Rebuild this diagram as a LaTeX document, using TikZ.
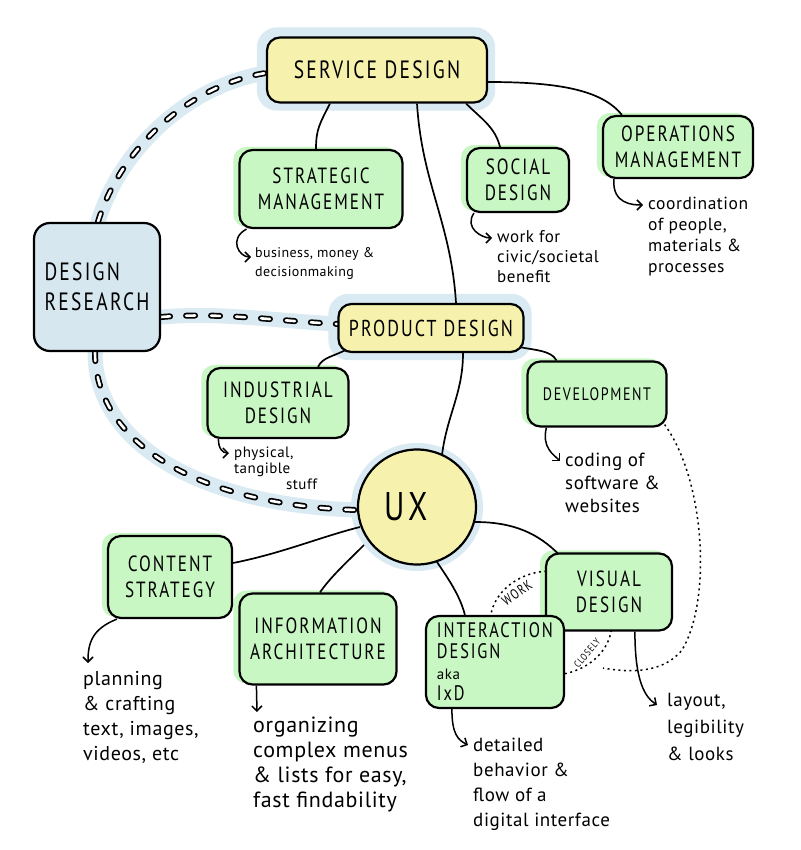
\documentclass[tikz,border=0pt]{standalone}
\usepackage{fontspec}
\setmainfont{PT Sans}
\newfontfamily\capfont[LetterSpace=9,FakeStretch=0.78]{PT Sans}
\newfontfamily\annfont[LetterSpace=3]{PT Sans}
\usetikzlibrary{arrows.meta,calc,shapes.geometric,backgrounds}
\definecolor{ylw}{RGB}{246,241,172}
\definecolor{grn}{RGB}{201,247,196}
\definecolor{drb}{RGB}{214,231,240}
\definecolor{halo}{RGB}{218,234,242}
\pgfdeclarelayer{halolayer}
\pgfsetlayers{halolayer,background,main}
\tikzset{
  box/.style={draw=black, line width=2.2pt, rounded corners=13pt, align=center, inner sep=0pt, font=\capfont\fontsize{22}{26}\selectfont},
  ybox/.style={box, fill=ylw},
  gbox/.style={box, fill=grn},
  bbox/.style={box, fill=drb, rounded corners=16pt},
  link/.style={line width=1.7pt, draw=black},
  note/.style={line width=1.5pt, -{Straight Barb[length=5pt,width=10pt,line width=1.5pt]}},
  ann/.style={align=left, anchor=north west, inner sep=0pt, font=\annfont\fontsize{16}{22}\selectfont},
  dashout/.style={line width=6pt, draw=black, line cap=round, dash pattern=on 9pt off 16pt},
  dashin/.style={line width=2.6pt, draw=white, line cap=round, dash pattern=on 9pt off 16pt},
  haloline/.style={line width=15pt, draw=halo, line cap=round},
  dots/.style={line width=1.5pt, dash pattern=on 2pt off 3.5pt},
  small/.style={inner sep=0pt, font=\capfont\fontsize{14}{16}\selectfont},
}
\newcommand{\gshade}[1]{\fill[grn, rounded corners=13pt] ($(#1.north west)+(-5,-2)$) rectangle ($(#1.south east)+(-5,-2)$);}
\newcommand{\nhalo}[1]{\fill[halo, rounded corners=20pt] ($(#1.north west)+(-9,-9)$) rectangle ($(#1.south east)+(7,7)$);}
\begin{document}
\begin{tikzpicture}[x=1pt,y=-1pt]
\useasboundingbox (0,0) rectangle (800,850);
% ---------- nodes
\node[ybox, minimum width=220pt, minimum height=65pt, font=\capfont\fontsize{25}{28}\selectfont] (sd) at (377,70) {SERVICE DESIGN};
\node[gbox, minimum width=163pt, minimum height=78pt] (strat) at (321,189) {STRATEGIC\\MANAGEMENT};
\node[gbox, minimum width=102pt, minimum height=64pt] (soc) at (518,180) {SOCIAL\\DESIGN};
\node[gbox, minimum width=150pt, minimum height=62pt] (ops) at (678,147) {OPERATIONS\\MANAGEMENT};
\node[bbox, minimum width=126pt, minimum height=128pt, align=left, font=\capfont\fontsize{25}{30}\selectfont] (dr) at (97,287) {DESIGN\\RESEARCH};
\node[ybox, minimum width=185pt, minimum height=48pt, font=\capfont\fontsize{23}{26}\selectfont] (pd) at (431,328) {PRODUCT DESIGN};
\node[gbox, minimum width=141pt, minimum height=70pt] (ind) at (278,403) {INDUSTRIAL\\DESIGN};
\node[gbox, minimum width=139pt, minimum height=65pt, font=\capfont\fontsize{18}{20}\selectfont] (dev) at (597,394) {DEVELOPMENT};
\node[ybox, ellipse, minimum width=118pt, minimum height=115pt, font=\capfont\fontsize{40}{44}\selectfont] (ux) at (417,507) {UX\hspace*{22pt}};
\node[gbox, minimum width=124pt, minimum height=82pt] (cs) at (170,577) {CONTENT\\STRATEGY};
\node[gbox, minimum width=157pt, minimum height=91pt] (ia) at (318,639) {INFORMATION\\ARCHITECTURE};
\node[gbox, minimum width=126pt, minimum height=77pt] (vis) at (609,592) {VISUAL\\DESIGN};
\node[gbox, minimum width=138pt, minimum height=92pt, align=left, font=\capfont\fontsize{21}{21}\selectfont] (ixd) at (495,662) {INTERACTION\\DESIGN\\{\annfont\fontsize{15}{20}\selectfont aka}\\IxD};
% ---------- halos
\begin{pgfonlayer}{halolayer}
\fill[white] (0,0) rectangle (800,850);
\nhalo{sd}
\nhalo{pd}
\fill[halo] (ux.center) ellipse [x radius=66pt, y radius=64pt];
\gshade{strat}\gshade{soc}\gshade{ops}\gshade{ind}\gshade{dev}\gshade{cs}\gshade{ia}\gshade{vis}
\draw[haloline] ($(dr.north)+(1,0)$) .. controls +(22,-73) and +(-77,12) .. ($(sd.west)+(0,3)$);
\draw[haloline] ($(dr.east)+(0,30)$) .. controls +(60,-5) and +(-60,-3) .. ($(pd.west)+(0,-4)$);
\draw[haloline] ($(dr.south)+(-2,0)$) .. controls +(0,90) and +(-160,-5) .. ($(ux.west)+(0,3)$);
\end{pgfonlayer}
% ---------- connectors
\begin{pgfonlayer}{background}
\draw[dashout] ($(dr.north)+(1,0)$) .. controls +(22,-73) and +(-77,12) .. ($(sd.west)+(0,3)$);
\draw[dashin] ($(dr.north)+(1,0)$) .. controls +(22,-73) and +(-77,12) .. ($(sd.west)+(0,3)$);
\draw[dashout] ($(dr.east)+(0,30)$) .. controls +(60,-5) and +(-60,-3) .. ($(pd.west)+(0,-4)$);
\draw[dashin] ($(dr.east)+(0,30)$) .. controls +(60,-5) and +(-60,-3) .. ($(pd.west)+(0,-4)$);
\draw[dashout] ($(dr.south)+(-2,0)$) .. controls +(0,90) and +(-160,-5) .. ($(ux.west)+(0,3)$);
\draw[dashin] ($(dr.south)+(-2,0)$) .. controls +(0,90) and +(-160,-5) .. ($(ux.west)+(0,3)$);
\draw[link] ($(sd.south west)+(64,0)$) .. controls +(-10,20) and +(0,-20) .. ($(strat.north)+(-5,0)$);
\draw[link] ($(sd.south)+(40,0)$) .. controls +(5,80) and +(-5,-80) .. ($(pd.north)+(25,0)$);
\draw[link] ($(sd.south east)+(-22,0)$) .. controls +(15,15) and +(-5,-20) .. ($(soc.north)+(-18,0)$);
\draw[link] ($(sd.east)+(0,12)$) .. controls +(70,0) and +(-20,-25) .. ($(ops.north west)+(20,0)$);
\draw[link] ($(pd.south west)+(10,-4)$) .. controls +(-15,8) and +(5,-10) .. ($(ind.north)+(40,0)$);
\draw[link] ($(pd.south)+(32,0)$) .. controls +(0,40) and +(5,-40) .. ($(ux.center)+(25,-52)$);
\draw[link] ($(pd.south east)+(-5,-6)$) .. controls +(15,3) and +(-5,-10) .. ($(dev.north west)+(30,0)$);
\draw[link] ($(cs.east)+(0,-14)$) .. controls +(50,-10) and +(-40,10) .. ($(ux.center)+(-57,20)$);
\draw[link] ($(ux.center)+(-53,38)$) .. controls +(-15,15) and +(10,-15) .. ($(ia.north)+(2,0)$);
\draw[link] ($(ux.center)+(20,55)$) .. controls +(10,15) and +(-5,-20) .. ($(ixd.north west)+(40,0)$);
\draw[link] ($(ux.center)+(58,15)$) .. controls +(40,0) and +(-20,-20) .. ($(vis.north west)+(14,2)$);
% dotted
\draw[dots] (551,623) ellipse [x radius=61pt, y radius=52pt];
\coordinate (dj) at (603,668);
\draw[dots] ($(dev.south east)+(-3,-3)$) .. controls (705,480) and (712,600) .. (682,650) .. controls (662,675) and (625,672) .. (dj);
\end{pgfonlayer}
\node[small, rotate=35] (work) at (517,593) {WORK};
\node[small, rotate=50, font=\capfont\fontsize{10}{12}\selectfont] (closely) at (587,653) {CLOSELY};
% ---------- annotations
\coordinate (a1) at (251,257);
\draw[note] ($(strat.south west)+(8,0)$) .. controls +(-18,10) and +(-12,0) .. (a1);
\node[ann, font=\annfont\fontsize{14}{19}\selectfont] (t1) at (255,247) {business, money \&\\decisionmaking};
\coordinate (a2) at (492,238);
\draw[note] ($(soc.south west)+(8,0)$) .. controls +(-10,15) and +(-10,0) .. (a2);
\node[ann, font=\annfont\fontsize{17}{20}\selectfont] (t2) at (497,230) {work for\\civic/societal\\benefit};
\coordinate (a3) at (643,205);
\draw[note] ($(ops.south west)+(12,0)$) .. controls +(-2,25) and +(-10,0) .. (a3);
\node[ann, font=\annfont\fontsize{17.5}{21}\selectfont] (t3) at (648,197) {coordination\\of people,\\materials \&\\processes};
\coordinate (a4) at (229,453);
\draw[note] ($(ind.south west)+(12,0)$) .. controls +(0,10) and +(-6,0) .. (a4);
\node[ann, font=\annfont\fontsize{15}{16}\selectfont] (t4) at (234,447) {physical,\\tangible\\\hspace*{52pt}stuff};
\coordinate (a5) at (560,461);
\draw[note] ($(dev.south west)+(20,0)$) .. controls +(-5,20) and +(-6,-6) .. (a5);
\node[ann, font=\annfont\fontsize{19}{23}\selectfont] (t5) at (565,453) {coding of\\software \&\\websites};
\coordinate (a6) at (88,663);
\draw[note] ($(cs.south west)+(10,0)$) .. controls +(-25,10) and +(0,-20) .. (a6);
\node[ann, font=\annfont\fontsize{20}{25}\selectfont] (t6) at (83,671) {planning\\\& crafting\\text, images,\\videos, etc};
\coordinate (a7) at (257,712);
\draw[note] ($(ia.south west)+(18,0)$) -- (a7);
\node[ann, font=\annfont\fontsize{22}{25}\selectfont] (t7) at (253,717) {organizing\\complex menus\\\& lists for easy,\\fast findability};
\coordinate (a8) at (468,745);
\draw[note] ($(ixd.south west)+(27,0)$) .. controls +(0,25) and +(-10,-5) .. (a8);
\node[ann, font=\annfont\fontsize{19}{25}\selectfont] (t8) at (473,738) {detailed\\behavior \&\\flow of a\\digital interface};
\coordinate (a9) at (657,705);
\draw[note] ($(vis.south west)+(90,0)$) .. controls +(0,50) and +(-12,-8) .. (a9);
\node[ann, font=\annfont\fontsize{19}{27}\selectfont] (t9) at (667,693) {layout,\\legibility\\\& looks};
\end{tikzpicture}
\end{document}
